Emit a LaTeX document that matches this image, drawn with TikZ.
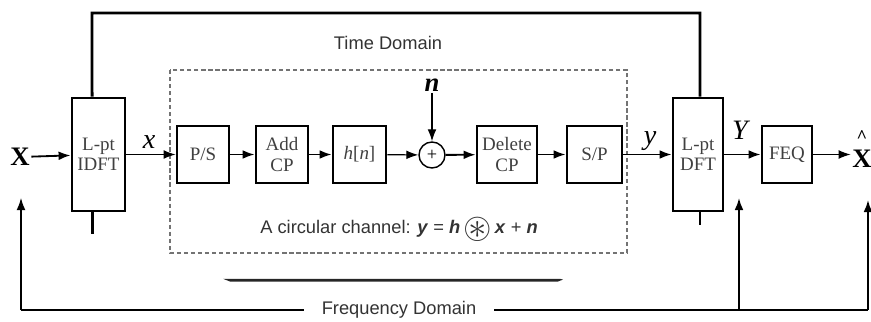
\documentclass[tikz,border=0pt]{standalone}
\usepackage{amsmath}
\usepackage{amssymb}
\usepackage{graphicx}
\usepackage{fontspec}
\setmainfont{Liberation Serif}
\setsansfont{Liberation Sans}
\usetikzlibrary{arrows.meta}

\tikzset{
    blk/.style={draw=black, line width=2pt, minimum width=1.3cm, minimum height=1.425cm,
        align=center, inner sep=1pt, font=\fontsize{13.5}{14.5}\selectfont, text=black!75},
    tallblk/.style={blk, minimum height=2.825cm},
    wire/.style={draw=black, line width=2pt},
    thk/.style={draw=black, line width=1.3pt, -{Latex[length=3mm,width=2.2mm]}},
    thn/.style={draw=black, line width=0.8pt, -{Latex[length=3mm,width=2.2mm]}},
    lbl/.style={font=\sffamily\fontsize{13}{14}\selectfont, text=black!80},
    sig/.style={font=\fontsize{20}{20}\selectfont\itshape, inner sep=1pt}
}

\begin{document}
\begin{tikzpicture}[x=0.025cm, y=-0.025cm]
        \useasboundingbox (0,0) rectangle (871,322);

        % time domain frame
        \draw[draw=black!55, line width=0.8pt, dash pattern=on 3pt off 2pt] (170,70) rectangle (627,253);
        \node[lbl] (td) at (388,43) {Time Domain};

        % blocks
        \node[tallblk, minimum width=1.325cm] (idft) at (98.5,154.5) {L-pt\\IDFT};
        \node[blk] (ps) at (203,154.5) {P/S};
        \node[blk] (acp) at (282,154.5) {Add\\CP};
        \node[blk, minimum width=1.325cm] (hn) at (359.5,154.5) {\textit{h}[\textit{n}]};
        \node[draw=black, line width=1pt, circle, minimum size=0.65cm, inner sep=0pt,
            font=\fontsize{13}{14}\selectfont] (sum) at (432,155) {+};
        \node[blk, minimum width=1.5cm] (dcp) at (507,154.5) {Delete\\CP};
        \node[blk, minimum width=1.375cm] (sp) at (594.5,154.5) {S/P};
        \node[tallblk, minimum width=1.25cm] (dft) at (698,154.5) {L-pt\\DFT};
        \node[blk, minimum width=1.25cm] (feq) at (787,154.5) {FEQ};

        % signals
        \node[font=\fontsize{19}{19}\selectfont\bfseries, inner sep=1pt] (xin) at (20,157) {X};
        \node[font=\fontsize{19}{19}\selectfont\bfseries, inner sep=1pt, align=center, anchor=south] (xout) at (862,169.5)
            {{\fontsize{13}{13}\selectfont\^{}}\\[-1pt]X};
        \node[sig] (lx) at (149,142) {x};
        \node[sig] (ly) at (650,141) {y};
        \node[sig] (lY) at (740,130) {Y};
        \node[font=\fontsize{19}{19}\selectfont\bfseries\itshape, inner sep=1pt] (nn) at (432,85) {n};

        % chain
        \draw[thk] (xin) -- (idft);
        \draw[thn] (idft) -- (ps);
        \draw[thk] (ps) -- (acp);
        \draw[thk] (acp) -- (hn);
        \draw[thn] (hn) -- (sum);
        \draw[thn] (nn) -- (sum);
        \draw[thk] (sum) -- (dcp);
        \draw[thk] (dcp) -- (sp);
        \draw[thk] (sp) -- (dft);
        \draw[thk] (dft) -- (feq);
        \draw[thn] (feq) -- (feq -| xout.west);

        % channel model
        \node[lbl] (cc) at (399,229) {A circular channel: \textbf{\textit{y}} = \textbf{\textit{h}}\,\raisebox{-0.45ex}{\scalebox{2}{$\boldsymbol{\circledast}$}}\,\textbf{\textit{x}} + \textbf{\textit{n}}};
        \fill[black!85] (223,278.8) -- (560,278.8) -- (563,279.6) -- (558,281.5) -- (230,281.5) -- cycle;

        % time domain loop
        \coordinate (tl) at (92,13);
        \coordinate (tr) at (700,13);
        \draw[wire] ([xshift=-0.16cm]idft.north) -- (tl) -- (tr) -- ([xshift=0.05cm]dft.north);
        \draw[wire] ([xshift=-0.16cm]idft.south) -- ++(0,22);
        \draw[wire] ([xshift=0.05cm]dft.south) -- ++(0,13);

        % frequency domain loop
        \coordinate (bl) at (21,310);
        \coordinate (bm) at (739,310);
        \coordinate (br) at (868,310);
        \coordinate (ul) at (21,198);
        \coordinate (um) at (739,198);
        \coordinate (ur) at (868,200);
        \draw[wire] (bl) -- (br);
        \node[lbl, fill=white, inner xsep=0.45cm] (fd) at (399,310) {Frequency Domain};
        \draw[thn] (bl) -- (ul);
        \draw[thk] (bm) -- (um);
        \draw[thk] (br) -- (ur);
\end{tikzpicture}
\end{document}
